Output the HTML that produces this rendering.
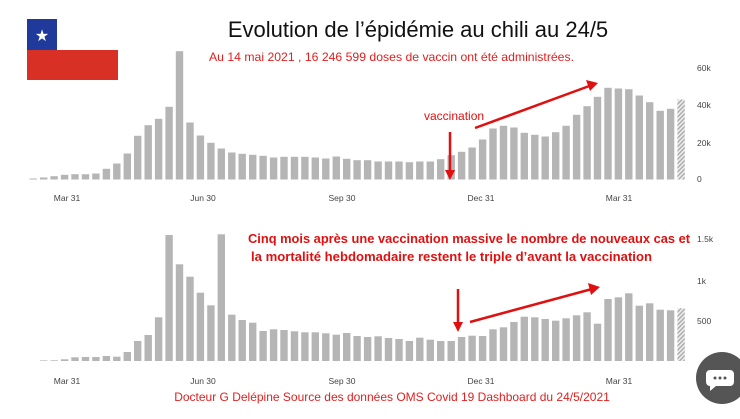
<!DOCTYPE html>
<html><head><meta charset="utf-8"><style>
html,body{margin:0;padding:0;background:#fff;width:740px;height:419px;overflow:hidden}
svg{display:block}
</style></head><body>
<svg id="s" width="740" height="419" xmlns="http://www.w3.org/2000/svg" font-family="Liberation Sans, sans-serif">
<defs><pattern id="h" width="3" height="3" patternUnits="userSpaceOnUse" patternTransform="rotate(45)"><rect width="3" height="3" fill="#eee"/><rect width="1.4" height="3" fill="#aaa"/></pattern></defs>
<rect x="27" y="19" width="91" height="31" fill="#fff"/>
<rect x="27" y="19" width="30" height="31" fill="#1f3a9a"/>
<text x="42" y="41" font-size="16" fill="#fff" text-anchor="middle">★</text>
<rect x="27" y="50" width="91" height="30" fill="#d93025"/>
<text x="418" y="37" font-size="22" fill="#111" text-anchor="middle">Evolution de l’épidémie au chili au 24/5</text>
<text x="209" y="61" font-size="12" fill="#e02020" textLength="365" lengthAdjust="spacingAndGlyphs">Au 14 mai 2021 , 16 246 599  doses de vaccin ont été administrées.</text>
<g id="top"></g><g id="bot"></g>
<g font-size="8.5" fill="#444">
<text x="67" y="201" text-anchor="middle">Mar 31</text><text x="203" y="201" text-anchor="middle">Jun 30</text><text x="342" y="201" text-anchor="middle">Sep 30</text><text x="481" y="201" text-anchor="middle">Dec 31</text><text x="619" y="201" text-anchor="middle">Mar 31</text>
<text x="697" y="71">60k</text><text x="697" y="108">40k</text><text x="697" y="146">20k</text><text x="697" y="182">0</text>
<text x="67" y="384" text-anchor="middle">Mar 31</text><text x="203" y="384" text-anchor="middle">Jun 30</text><text x="342" y="384" text-anchor="middle">Sep 30</text><text x="481" y="384" text-anchor="middle">Dec 31</text><text x="619" y="384" text-anchor="middle">Mar 31</text>
<text x="697" y="242">1.5k</text><text x="697" y="284">1k</text><text x="697" y="324">500</text>
</g>
<text x="248" y="243" font-size="13" font-weight="bold" fill="#e01010" textLength="442" lengthAdjust="spacingAndGlyphs">Cinq mois après une vaccination massive le nombre de nouveaux cas et</text>
<text x="251" y="261" font-size="13" font-weight="bold" fill="#e01010" textLength="401" lengthAdjust="spacingAndGlyphs">la mortalité hebdomadaire restent le triple d’avant la vaccination</text>
<text x="424" y="120" font-size="12" fill="#e01010">vaccination</text>
<g stroke="#e01010" stroke-width="2.5" fill="#e01010">
<line x1="450" y1="132" x2="450" y2="172"/><polygon points="445,170 455,170 450,180" stroke="none"/>
<line x1="475" y1="128" x2="592" y2="85"/><polygon points="598,83 586,80 590,91" stroke="none"/>
<line x1="458" y1="289" x2="458" y2="325"/><polygon points="453,322 463,322 458,332" stroke="none"/>
<line x1="470" y1="322" x2="592" y2="289"/><polygon points="600,287 588,283 591,295" stroke="none"/>
</g>
<text x="392" y="401" font-size="12" fill="#e02020" text-anchor="middle">Docteur G Delépine  Source des données OMS Covid 19 Dashboard du 24/5/2021</text>
<circle cx="722" cy="378" r="26" fill="#555"/>
<path d="M710,370 h20 a4,4 0 0 1 4,4 v8 a4,4 0 0 1 -4,4 h-14 l-6,5 v-5 a4,4 0 0 1 -4,-4 v-8 a4,4 0 0 1 4,-4z" fill="#fff"/>
<circle cx="715" cy="378" r="1.5" fill="#555"/><circle cx="720" cy="378" r="1.5" fill="#555"/><circle cx="725" cy="378" r="1.5" fill="#555"/>
</svg>
<script>
var t=[415,412,408,404,402,402,400,386,370,340,287,255,236,200,33,247,286,308,325,337,341,344,347,352,350,350,350,352,355,349,356,360,360,364,364,364,366,364,364,357,345,335,322,298,265,257,262,278,284,289,276,257,224,198,170,143,145,147,166,186,212,206,178];
var b=[408,406,403,397,396,396,393,395,381,348,330,277,30,118,155,203,241,28,269,285,293,318,313,315,319,322,322,325,329,324,333,336,334,339,342,348,338,344,348,348,336,332,333,313,307,291,275,277,282,287,280,271,262,296,222,217,205,242,235,254,256,250];
function draw(id,arr,base0,baseY){var g=document.getElementById(id),s="",n=arr.length,step=10.45;
for(var i=0;i<n;i++){var h=(base0-arr[i])/3;if(h<0.6)h=0.6;var x=681-(n-1-i)*step-3.6;
s+='<rect x="'+x.toFixed(1)+'" y="'+(baseY-h).toFixed(1)+'" width="7.4" height="'+h.toFixed(1)+'" fill="'+(i==n-1?'url(#h)':'#b5b5b5')+'"/>';}
g.innerHTML=s;}
draw("top",t,418,179.5);draw("bot",b,408,361);
</script>
</body></html>
